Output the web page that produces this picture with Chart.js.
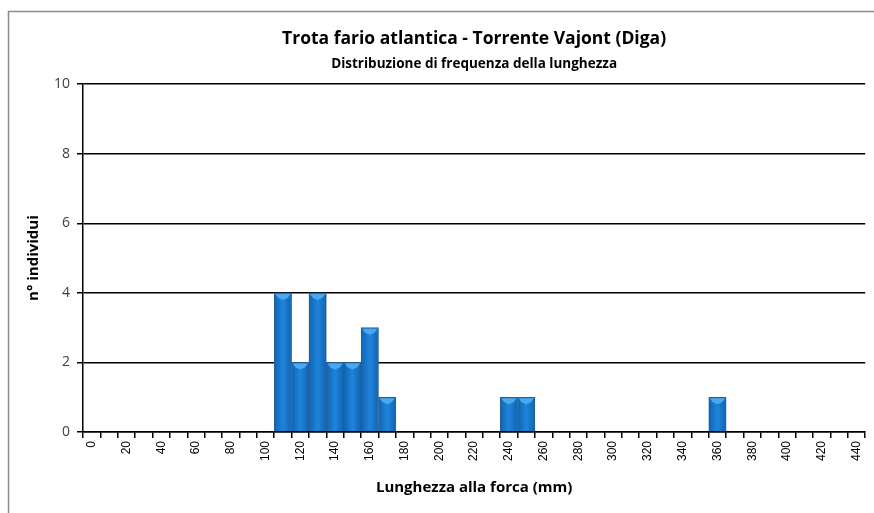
<!DOCTYPE html>
<html>
<head>
<meta charset="utf-8">
<script src="https://cdn.jsdelivr.net/npm/chart.js@4.4.1/dist/chart.umd.min.js"></script>
<style>
  html, body { margin: 0; padding: 0; background: #fff; }
  #wrap { width: 874px; height: 513px; position: relative; }
</style>
</head>
<body>
<div id="wrap"><canvas id="chart" width="874" height="513"></canvas></div>
<script>
// length classes (mm) and number of fish per class
const lengthClasses = ['0','10','20','30','40','50','60','70','80','90','100','110','120','130','140','150','160','170','180','190','200','210','220','230','240','250','260','270','280','290','300','310','320','330','340','350','360','370','380','390','400','410','420','430','440'];
const individuals = [0,0,0,0,0,0,0,0,0,0,0,4,2,4,2,2,3,1,0,0,0,0,0,0,1,1,0,0,0,0,0,0,0,0,0,0,1,0,0,0,0,0,0,0,0];
const yTicks = [0, 2, 4, 6, 8, 10];

const chartTitle = 'Trota fario atlantica - Torrente Vajont (Diga)';
const chartSubtitle = 'Distribuzione di frequenza della lunghezza';

// grey frame around the chart, like the spreadsheet chart box
const frame = {
    id: 'frame',
    beforeDraw(chart) {
        const ctx = chart.ctx;
        ctx.save();
        ctx.fillStyle = '#fff';
        ctx.fillRect(0, 0, chart.width, chart.height);
        ctx.strokeStyle = '#8c8c8c';
        ctx.lineWidth = 1.5;
        ctx.strokeRect(8.5, 11.5, 900, 600);
        ctx.restore();
    }
};

// light bevel on top of each bar
const bevel = {
    id: 'bevel',
    afterDatasetsDraw(chart) {
        const ctx = chart.ctx;
        const meta = chart.getDatasetMeta(0);
        ctx.save();
        meta.data.forEach((bar, i) => {
            if (!individuals[i]) return;
            const w = bar.width;
            const l = bar.x - w / 2 + 1;
            const r = bar.x + w / 2 - 1;
            const t = bar.y + 1;
            ctx.fillStyle = '#4aa8ee';
            ctx.beginPath();
            ctx.moveTo(l, t);
            ctx.lineTo(r, t);
            ctx.lineTo(r - 3, t + 4);
            ctx.lineTo(bar.x, t + 6);
            ctx.lineTo(l + 3, t + 4);
            ctx.closePath();
            ctx.fill();
        });
        ctx.restore();
    }
};

function barFill(context) {
    const chart = context.chart;
    const xs = chart.scales.x;
    if (!chart.chartArea || !xs) return '#1470c4';
    const cx = xs.getPixelForValue(context.dataIndex);
    const half = xs.width / lengthClasses.length / 2;
    const g = chart.ctx.createLinearGradient(cx - half, 0, cx + half, 0);
    g.addColorStop(0, '#0f64b2');
    g.addColorStop(0.5, '#2084da');
    g.addColorStop(1, '#0f64b2');
    return g;
}

new Chart(document.getElementById('chart').getContext('2d'), {
    type: 'bar',
    data: {
        labels: lengthClasses,
        datasets: [{
            data: individuals,
            backgroundColor: barFill,
            borderColor: '#2a5f95',
            borderWidth: 1,
            categoryPercentage: 1,
            barPercentage: 1
        }]
    },
    options: {
        responsive: false,
        animation: false,
        layout: { padding: { left: 9, right: 6, top: 12, bottom: 16 } },
        plugins: {
            legend: { display: false },
            tooltip: { enabled: false },
            title: {
                display: true,
                fullSize: false,
                text: chartTitle,
                color: '#000',
                font: { family: 'Open Sans', size: 17.5, weight: 'bold' },
                padding: { top: 17, bottom: 6 }
            },
            subtitle: {
                display: true,
                fullSize: false,
                text: chartSubtitle,
                color: '#000',
                font: { family: 'Open Sans', size: 13.5, weight: 'bold' },
                padding: { top: 0, bottom: 12 }
            }
        },
        scales: {
            x: {
                offset: true,
                border: { color: '#000', width: 1.5 },
                grid: { offset: true, drawOnChartArea: false, color: '#000', tickLength: 6, lineWidth: 1.5 },
                ticks: {
                    autoSkip: false,
                    minRotation: 90,
                    maxRotation: 90,
                    color: '#000',
                    padding: 3,
                    font: { family: 'Liberation Sans', size: 12 },
                    callback: (v, i) => (i % 2 === 0 ? lengthClasses[i] : '')
                },
                title: {
                    display: true,
                    text: 'Lunghezza alla forca (mm)',
                    color: '#000',
                    font: { family: 'Open Sans', size: 15, weight: 'bold' },
                    padding: { top: 8, bottom: 0 }
                },
                afterFit: s => { s.height = 65; }
            },
            y: {
                min: yTicks[0],
                max: yTicks[yTicks.length - 1],
                border: { color: '#000', width: 1.5 },
                grid: { color: '#000', lineWidth: 1.5, tickLength: 6 },
                ticks: {
                    stepSize: 2,
                    color: '#404040',
                    padding: 7,
                    font: { family: 'Open Sans', size: 14 }
                },
                title: {
                    display: true,
                    text: 'n° individui',
                    color: '#000',
                    font: { family: 'Open Sans', size: 15, weight: 'bold' },
                    padding: { top: 16, bottom: 8 }
                },
                afterFit: s => { s.width = 74; }
            }
        }
    },
    plugins: [frame, bevel]
});
</script>
</body>
</html>
